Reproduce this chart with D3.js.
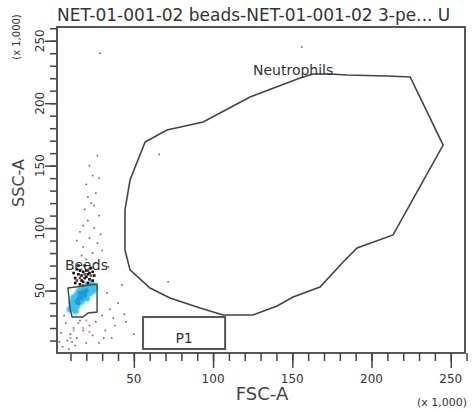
<!DOCTYPE html>
<html>
  <head>
    <meta charset="utf-8">
    <title>FSC-A vs SSC-A</title>
    <style>
      body{margin:0; background:#fff;}
      svg{display:block; font-family:"DejaVu Sans", sans-serif;}
    </style>
    <script src="https://d3js.org/d3.v7.min.js"></script>
  </head>
  <body>
    <script>

        // values in thousands (x 1,000)
        var xTickLabels = [50, 100, 150, 200, 250];
        var yTickLabels = [50, 100, 150, 200, 250];
        var minorTicks = d3.range(10, 261, 10);

        // Neutrophils gate vertices [FSC-A, SSC-A]
        var neutrophilsGate = [
            [57.1, 168.9], [70.9, 178.5], [93.7, 185], [104.4, 192.2], [123.3, 205],
            [154.9, 220.2], [163.1, 223.4], [173.8, 223.4], [184.6, 222.6], [209.8, 221.8],
            [224.4, 221], [245.2, 166.5], [213.6, 94.5], [190.9, 84.1], [182.1, 72.9],
            [167.5, 52.8], [150.5, 44.8], [140.4, 37.6], [125.2, 30.4], [106.3, 30.4],
            [91.8, 36], [72.8, 44], [60.2, 52], [47.6, 66.5], [44.4, 82.5],
            [44.4, 114.5], [47.6, 138.5]
        ];

        var beadsGate = [
            [8.4, 52], [26.8, 55.2], [26.8, 32.8], [21.1, 32], [17.9, 28.8], [11, 28.8], [9.7, 36]
        ];

        // P1 rectangle gate: [x0, x1, y0, y1]
        var p1Gate = [55.8, 107.6, 3.2, 28.8];

        // events inside the beads gate (high density)
        var beadsEvents = [
            [10, 35], [11, 37], [12, 39], [13, 38], [13, 41], [14, 40], [14, 43], [15, 42],
            [15, 45], [16, 44], [16, 47], [17, 46], [17, 49], [18, 45], [18, 48], [19, 47],
            [19, 50], [20, 49], [20, 52], [21, 51], [21, 54], [22, 53], [23, 55], [24, 54],
            [12, 42], [16, 41], [19, 44], [22, 50], [14, 46], [20, 46], [12, 36], [23, 52],
            [12, 44], [15, 48], [18, 51], [14, 38], [17, 42], [20, 44], [22, 48], [11, 40],
            [25, 52], [24, 50], [13, 34], [16, 50]
        ];
        var beadsCore = [
            [14, 41], [15, 43], [16, 45], [17, 46], [17, 44], [18, 47], [18, 49], [19, 48],
            [20, 50], [16, 48], [15, 40], [19, 46]
        ];

        // dense black cluster just above beads
        var upperCluster = [
            [13, 60], [15, 63], [17, 58], [18, 65], [20, 61], [22, 64], [24, 58], [14, 67],
            [19, 70], [21, 56], [16, 55], [23, 68], [12, 64], [20, 66], [25, 62], [17, 62],
            [22, 59], [15, 70], [18, 57], [13, 56], [19, 60], [21, 63], [16, 66], [24, 65]
        ];
        var redEvents = [[16, 60], [19, 63], [21, 66], [14, 58], [23, 62], [18, 54]];

        // sparse events
        var scatterEvents = [
            [20, 75], [24, 80], [18, 85], [27, 88], [22, 92], [16, 97], [25, 100], [21, 106],
            [28, 110], [19, 115], [23, 120], [26, 128], [20, 135], [24, 142], [22, 150],
            [27, 158], [18, 102], [29, 95], [17, 78], [26, 72], [30, 82], [14, 90], [25, 118],
            [21, 125], [28, 140], [28.6, 240], [156, 245], [66, 159], [71.6, 57], [42.5, 54.4],
            [34, 69], [40, 40], [45, 25], [38, 22], [32, 18], [50, 15], [30, 30], [35, 35],
            [36, 12], [28, 8], [5, 5], [8, 10], [10, 15], [12, 20], [7, 24], [14, 12], [18, 18],
            [20, 8], [16, 26], [22, 22], [24, 14], [9, 3], [13, 6], [26, 25], [4, 16],
            [33, 48], [37, 28], [44, 31], [31, 12], [6, 30], [11, 9], [3, 9]
        ];
        var pinkEvents = [[15, 24], [18, 20], [12, 18], [20, 26], [10, 12], [22, 17]];

        var width = 472;
        var height = 412;

        var x = d3.scaleLinear().domain([1.5, 259]).range([57, 465]);
        var y = d3.scaleLinear().domain([0, 261]).range([353, 27]);

        var svg = d3.select("body").append("svg")
            .attr("width", width)
            .attr("height", height);

        // title
        svg.append("text")
            .attr("x", 57)
            .attr("y", 21)
            .attr("font-size", 17)
            .attr("fill", "#333")
            .text("NET-01-001-02 beads-NET-01-001-02 3-pe... U");

        // events
        var plot = svg.append("g");

        plot.selectAll(".ev").data(scatterEvents).enter()
            .append("rect")
            .attr("x", function (d) { return x(d[0]) - 0.8; })
            .attr("y", function (d) { return y(d[1]) - 0.8; })
            .attr("width", 1.6).attr("height", 1.6)
            .attr("fill", "#666");

        plot.selectAll(".pink").data(pinkEvents).enter()
            .append("rect")
            .attr("x", function (d) { return x(d[0]) - 1; })
            .attr("y", function (d) { return y(d[1]) - 1; })
            .attr("width", 2).attr("height", 2)
            .attr("fill", "#c99");

        plot.selectAll(".beads").data(beadsEvents).enter()
            .append("circle")
            .attr("cx", function (d) { return x(d[0]); })
            .attr("cy", function (d) { return y(d[1]); })
            .attr("r", 4.4)
            .attr("fill", "#9be0f4");

        plot.selectAll(".beads2").data(beadsEvents).enter()
            .append("circle")
            .attr("cx", function (d) { return x(d[0]); })
            .attr("cy", function (d) { return y(d[1]); })
            .attr("r", 3)
            .attr("fill", "#3cc0ec");

        plot.selectAll(".core").data(beadsCore).enter()
            .append("circle")
            .attr("cx", function (d) { return x(d[0]); })
            .attr("cy", function (d) { return y(d[1]); })
            .attr("r", 2.4)
            .attr("fill", "#1e9ad8");

        plot.selectAll(".upper").data(upperCluster).enter()
            .append("rect")
            .attr("x", function (d) { return x(d[0]) - 1.3; })
            .attr("y", function (d) { return y(d[1]) - 1.3; })
            .attr("width", 2.6).attr("height", 2.6)
            .attr("fill", "#111");

        plot.selectAll(".red").data(redEvents).enter()
            .append("rect")
            .attr("x", function (d) { return x(d[0]) - 1.3; })
            .attr("y", function (d) { return y(d[1]) - 1.3; })
            .attr("width", 2.6).attr("height", 2.6)
            .attr("fill", "#8a3a3a");

        // gates
        var line = d3.line()
            .x(function (d) { return x(d[0]); })
            .y(function (d) { return y(d[1]); })
            .curve(d3.curveLinearClosed);

        svg.append("path")
            .attr("d", line(neutrophilsGate))
            .attr("fill", "none")
            .attr("stroke", "#444")
            .attr("stroke-width", 1.6);

        svg.append("path")
            .attr("d", line(beadsGate))
            .attr("fill", "none")
            .attr("stroke", "#444")
            .attr("stroke-width", 1.4);

        svg.append("rect")
            .attr("x", x(p1Gate[0]))
            .attr("y", y(p1Gate[3]))
            .attr("width", x(p1Gate[1]) - x(p1Gate[0]))
            .attr("height", y(p1Gate[2]) - y(p1Gate[3]))
            .attr("fill", "none")
            .attr("stroke", "#555")
            .attr("stroke-width", 2);

        // gate labels
        svg.append("text")
            .attr("x", 253).attr("y", 75)
            .attr("font-size", 14).attr("fill", "#333")
            .text("Neutrophils");

        svg.append("text")
            .attr("x", 65).attr("y", 270)
            .attr("font-size", 14).attr("fill", "#333")
            .text("Beads");

        svg.append("text")
            .attr("x", (x(p1Gate[0]) + x(p1Gate[1])) / 2).attr("y", 343)
            .attr("text-anchor", "middle")
            .attr("font-size", 14).attr("fill", "#333")
            .text("P1");

        // axes: minor and major ticks
        var xMinor = d3.axisBottom(x).tickValues(minorTicks).tickSize(8).tickFormat("");
        var xMajor = d3.axisBottom(x).tickValues(xTickLabels).tickSize(15).tickFormat("");
        var yMinor = d3.axisLeft(y).tickValues(minorTicks).tickSize(7).tickFormat("");
        var yMajor = d3.axisLeft(y).tickValues(yTickLabels).tickSize(12).tickFormat("");

        [xMinor, xMajor].forEach(function (ax) {
            svg.append("g").attr("transform", "translate(0,353)").call(ax)
                .call(function (g) { g.select(".domain").remove(); })
                .selectAll("line").attr("stroke", "#444").attr("stroke-width", 1.5);
        });
        [yMinor, yMajor].forEach(function (ax) {
            svg.append("g").attr("transform", "translate(57,0)").call(ax)
                .call(function (g) { g.select(".domain").remove(); })
                .selectAll("line").attr("stroke", "#444").attr("stroke-width", 1.5);
        });

        // frame
        svg.append("rect")
            .attr("x", 57).attr("y", 27)
            .attr("width", 408).attr("height", 326)
            .attr("fill", "none")
            .attr("stroke", "#444")
            .attr("stroke-width", 1.8);

        // tick labels
        svg.selectAll(".xl").data(xTickLabels).enter()
            .append("text")
            .attr("x", function (d) { return x(d); })
            .attr("y", 383)
            .attr("text-anchor", "middle")
            .attr("font-size", 12).attr("fill", "#333")
            .text(function (d) { return d; });

        svg.selectAll(".yl").data(yTickLabels).enter()
            .append("text")
            .attr("transform", function (d) { return "translate(44," + y(d) + ") rotate(-90)"; })
            .attr("text-anchor", "middle")
            .attr("font-size", 12).attr("fill", "#333")
            .text(function (d) { return d; });

        // axis titles
        svg.append("text")
            .attr("x", 262).attr("y", 400)
            .attr("text-anchor", "middle")
            .attr("font-size", 18).attr("fill", "#444")
            .text("FSC-A");

        svg.append("text")
            .attr("transform", "translate(24,183) rotate(-90)")
            .attr("text-anchor", "middle")
            .attr("font-size", 16).attr("fill", "#444")
            .text("SSC-A");

        svg.append("text")
            .attr("x", 467).attr("y", 406)
            .attr("text-anchor", "end")
            .attr("font-size", 11).attr("fill", "#333")
            .text("(x 1,000)");

        svg.append("text")
            .attr("transform", "translate(20,37) rotate(-90)")
            .attr("text-anchor", "middle")
            .attr("font-size", 10).attr("fill", "#333")
            .text("(x 1,000)");

    </script>
  </body>
</html>
